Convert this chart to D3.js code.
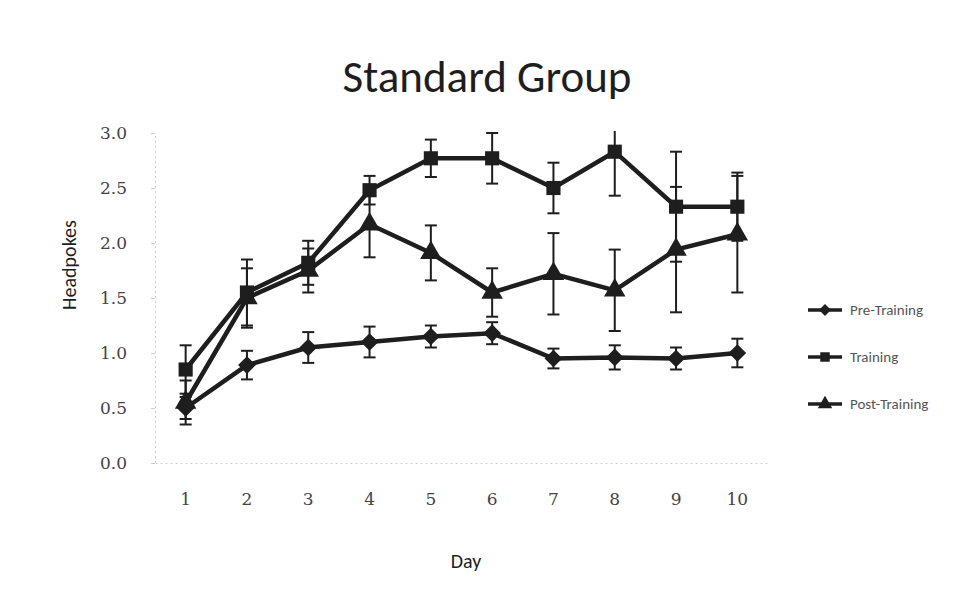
<!DOCTYPE html>
<html>
<head>
<meta charset="utf-8">
<script src="https://cdn.jsdelivr.net/npm/d3@7"></script>
<style>
  html, body { margin: 0; padding: 0; background: #fff; }
  svg { display: block; }
</style>
</head>
<body>
<svg id="chart" width="969" height="603"></svg>
<script>
// Standard Group - headpokes per day, three series with error bars
var days = ['1', '2', '3', '4', '5', '6', '7', '8', '9', '10'];
var yTicks = [0, 0.5, 1, 1.5, 2, 2.5, 3];

var seriesNames = ['Pre-Training', 'Training', 'Post-Training'];
var seriesMarkers = ['diamond', 'square', 'triangle'];

var diamondVals = [0.50, 0.89, 1.05, 1.10, 1.15, 1.18, 0.95, 0.96, 0.95, 1.00];
var diamondErr  = [0.10, 0.13, 0.14, 0.14, 0.10, 0.10, 0.09, 0.11, 0.10, 0.13];
var squareVals  = [0.85, 1.55, 1.82, 2.48, 2.77, 2.77, 2.50, 2.83, 2.33, 2.33];
var squareErr   = [0.22, 0.30, 0.20, 0.13, 0.17, 0.23, 0.23, 0.40, 0.50, 0.31];
var triVals     = [0.55, 1.50, 1.75, 2.17, 1.91, 1.55, 1.72, 1.57, 1.94, 2.08];
var triErr      = [0.20, 0.27, 0.20, 0.30, 0.25, 0.22, 0.37, 0.37, 0.57, 0.53];

(function () {
  'use strict';

  var svg = d3.select('#chart');
  var ink = '#1e1e1e';
  var font = 'Carlito, Calibri, "Open Sans", sans-serif';

  var plot = { left: 155, right: 768, top: 133, bottom: 463 };

  var x = d3.scaleBand().domain(days).range([plot.left, plot.right]).padding(0);
  var y = d3.scaleLinear().domain([0, 3]).range([plot.bottom, plot.top]);
  var cx = function (d) { return x(d) + x.bandwidth() / 2; };

  var series = [
    { name: seriesNames[0], marker: seriesMarkers[0], vals: diamondVals, err: diamondErr },
    { name: seriesNames[1], marker: seriesMarkers[1], vals: squareVals, err: squareErr },
    { name: seriesNames[2], marker: seriesMarkers[2], vals: triVals, err: triErr }
  ];

  var typeFor = {
    diamond: d3.symbolDiamond2 || d3.symbolDiamond,
    square: d3.symbolSquare,
    triangle: d3.symbolTriangle
  };

  // Title
  svg.append('text').attr('x', 487).attr('y', 92)
    .attr('text-anchor', 'middle').style('font-family', font)
    .style('font-size', '45px').style('font-weight', '500').attr('fill', ink)
    .text('Standard Group');

  // Axes (faint, as in the scan)
  var yAxis = svg.append('g').attr('transform', 'translate(' + plot.left + ',0)')
    .call(d3.axisLeft(y).tickValues(yTicks).tickSize(4).tickPadding(24)
      .tickFormat(d3.format('.1f')));
  var xAxis = svg.append('g').attr('transform', 'translate(0,' + plot.bottom + ')')
    .call(d3.axisBottom(x).tickSize(0).tickPadding(42));

  [yAxis, xAxis].forEach(function (a) {
    a.select('.domain').attr('stroke', '#cfcfcf').attr('stroke-dasharray', '2,3');
    a.selectAll('.tick line').attr('stroke', '#cfcfcf');
    a.selectAll('text').style('font-family', '"DejaVu Serif", serif')
      .style('font-size', '17px').attr('fill', '#444');
  });
  xAxis.selectAll('text').attr('dy', '0');

  // Axis titles
  svg.append('text').attr('x', 466).attr('y', 568)
    .attr('text-anchor', 'middle').style('font-family', font)
    .style('font-size', '20px').attr('fill', ink).text('Day');

  svg.append('text')
    .attr('transform', 'translate(76,265) rotate(-90)')
    .attr('text-anchor', 'middle').style('font-family', font)
    .style('font-size', '20px').attr('fill', ink).text('Headpokes');

  // Clip to plot area like the spreadsheet does
  svg.append('clipPath').attr('id', 'plotClip')
    .append('rect').attr('x', plot.left).attr('y', plot.top - 2)
    .attr('width', plot.right - plot.left).attr('height', plot.bottom - plot.top + 2);

  var g = svg.append('g').attr('clip-path', 'url(#plotClip)');

  var line = d3.line()
    .x(function (d) { return cx(d.day); })
    .y(function (d) { return y(d.v); });

  series.forEach(function (s) {
    var pts = days.map(function (d, i) { return { day: d, v: s.vals[i], e: s.err[i] }; });
    var sg = g.append('g');

    // Error bars
    var eb = sg.selectAll('.err').data(pts).enter().append('g').attr('class', 'err')
      .attr('stroke', ink).attr('stroke-width', 2);
    eb.append('line')
      .attr('x1', function (d) { return cx(d.day); })
      .attr('x2', function (d) { return cx(d.day); })
      .attr('y1', function (d) { return y(d.v - d.e); })
      .attr('y2', function (d) { return y(d.v + d.e); });
    [-1, 1].forEach(function (sign) {
      eb.append('line')
        .attr('x1', function (d) { return cx(d.day) - 6; })
        .attr('x2', function (d) { return cx(d.day) + 6; })
        .attr('y1', function (d) { return y(d.v + sign * d.e); })
        .attr('y2', function (d) { return y(d.v + sign * d.e); });
    });

    sg.append('path').datum(pts).attr('d', line)
      .attr('fill', 'none').attr('stroke', ink).attr('stroke-width', 4.5);

    sg.selectAll('.mk').data(pts).enter().append('path').attr('class', 'mk')
      .attr('d', d3.symbol().type(typeFor[s.marker]).size(200))
      .attr('transform', function (d) { return 'translate(' + cx(d.day) + ',' + y(d.v) + ')'; })
      .attr('fill', ink);
  });

  // Legend
  var legend = svg.append('g').attr('transform', 'translate(808,310)');
  series.forEach(function (s, i) {
    var row = legend.append('g').attr('transform', 'translate(0,' + (i * 47) + ')');
    row.append('line').attr('x1', 0).attr('x2', 34).attr('y1', 0).attr('y2', 0)
      .attr('stroke', ink).attr('stroke-width', 3.5);
    row.append('path').attr('d', d3.symbol().type(typeFor[s.marker]).size(90))
      .attr('transform', 'translate(17,0)').attr('fill', ink);
    row.append('text').attr('x', 42).attr('y', 0).attr('dy', '0.35em')
      .style('font-family', font).style('font-size', '15px').attr('fill', '#555')
      .text(s.name);
  });
})();
</script>
</body>
</html>
